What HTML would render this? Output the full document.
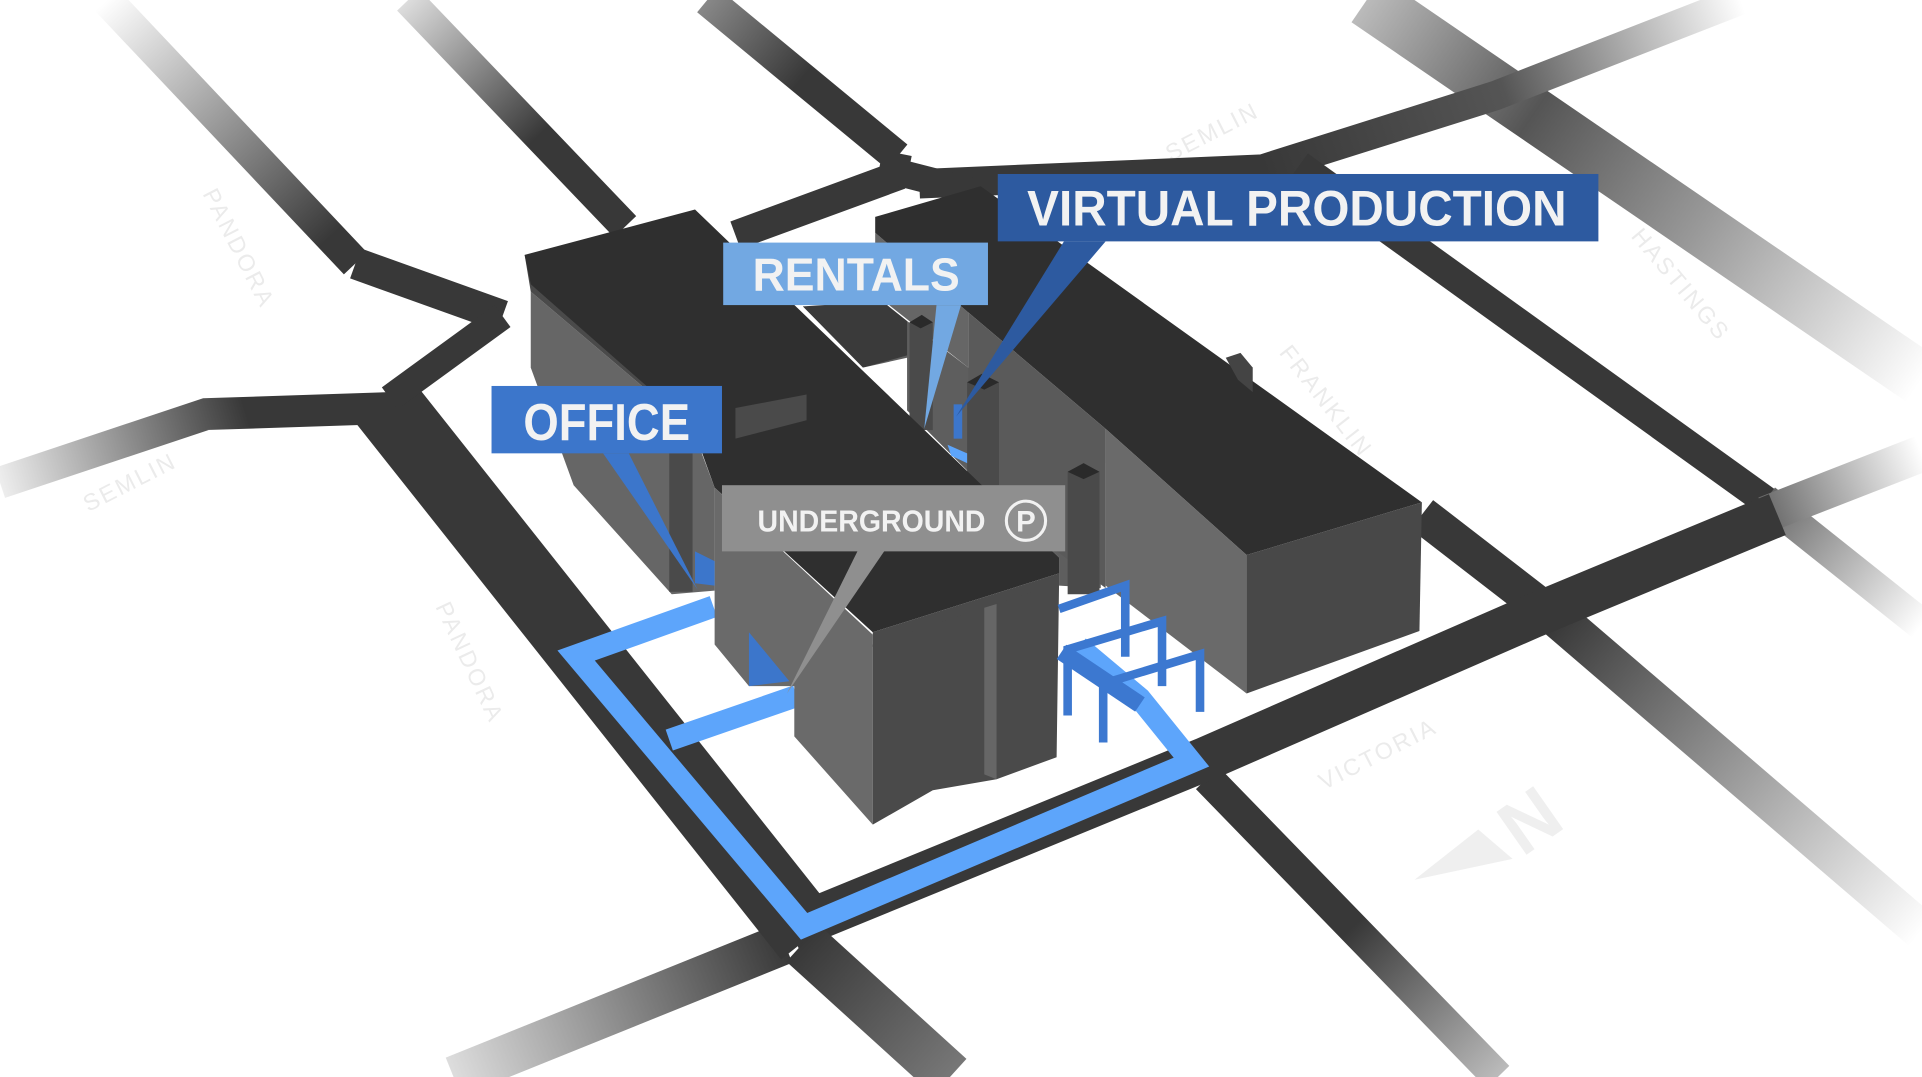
<!DOCTYPE html>
<html><head><meta charset="utf-8"><style>
html,body{margin:0;padding:0;background:#fff;overflow:hidden}
svg{display:block}
.lbl{font-family:"Liberation Sans",sans-serif;font-weight:bold;fill:#f2f2f2}
.st{font-family:"Liberation Sans",sans-serif;font-size:19px;fill:#ebebeb;letter-spacing:2px}
</style></head><body>
<svg width="1922" height="1077" viewBox="0 0 1568 879" preserveAspectRatio="none" xmlns="http://www.w3.org/2000/svg">
<defs>
<linearGradient id="gA" gradientUnits="userSpaceOnUse" x1="87" y1="0" x2="290" y2="215"><stop offset="0" stop-color="#fff"/><stop offset="0.9" stop-color="#383838"/></linearGradient>
<linearGradient id="gC" gradientUnits="userSpaceOnUse" x1="0" y1="394" x2="200" y2="334"><stop offset="0" stop-color="#eee"/><stop offset="1" stop-color="#383838"/></linearGradient>
<linearGradient id="gE" gradientUnits="userSpaceOnUse" x1="333" y1="0" x2="510" y2="185"><stop offset="0" stop-color="#ddd"/><stop offset="0.6" stop-color="#383838"/></linearGradient>
<linearGradient id="gF" gradientUnits="userSpaceOnUse" x1="577" y1="0" x2="732" y2="128"><stop offset="0" stop-color="#888"/><stop offset="0.5" stop-color="#383838"/></linearGradient>
<linearGradient id="gH" gradientUnits="userSpaceOnUse" x1="1115" y1="0" x2="1568" y2="310"><stop offset="0" stop-color="#bbb"/><stop offset="0.3" stop-color="#555"/><stop offset="0.6" stop-color="#999"/><stop offset="1" stop-color="#fff"/></linearGradient>
<linearGradient id="gS" gradientUnits="userSpaceOnUse" x1="1030" y1="138" x2="1420" y2="0"><stop offset="0" stop-color="#383838"/><stop offset="0.5" stop-color="#555"/><stop offset="1" stop-color="#fff"/></linearGradient>
<linearGradient id="gI" gradientUnits="userSpaceOnUse" x1="1400" y1="380" x2="1568" y2="510"><stop offset="0" stop-color="#383838"/><stop offset="1" stop-color="#fff"/></linearGradient>
<linearGradient id="gV" gradientUnits="userSpaceOnUse" x1="1400" y1="440" x2="1568" y2="370"><stop offset="0" stop-color="#383838"/><stop offset="1" stop-color="#fff"/></linearGradient>
<linearGradient id="g8" gradientUnits="userSpaceOnUse" x1="1270" y1="505" x2="1568" y2="760"><stop offset="0" stop-color="#383838"/><stop offset="1" stop-color="#fff"/></linearGradient>
<linearGradient id="g7" gradientUnits="userSpaceOnUse" x1="985" y1="635" x2="1222" y2="879"><stop offset="0.5" stop-color="#383838"/><stop offset="1" stop-color="#bbb"/></linearGradient>
<linearGradient id="g5" gradientUnits="userSpaceOnUse" x1="640" y1="770" x2="370" y2="879"><stop offset="0" stop-color="#383838"/><stop offset="1" stop-color="#ddd"/></linearGradient>
<linearGradient id="gD" gradientUnits="userSpaceOnUse" x1="655" y1="770" x2="775" y2="879"><stop offset="0" stop-color="#383838"/><stop offset="1" stop-color="#777"/></linearGradient>
</defs>
<rect width="1568" height="879" fill="#fff"/>
<text class="st" transform="translate(165,158) rotate(63)">PANDORA</text>
<text class="st" transform="translate(355,495) rotate(65)">PANDORA</text>
<text class="st" transform="translate(72,418) rotate(-27)">SEMLIN</text>
<text class="st" transform="translate(955,132) rotate(-27)">SEMLIN</text>
<text class="st" transform="translate(1330,193) rotate(50)">HASTINGS</text>
<text class="st" transform="translate(1043,288) rotate(52)">FRANKLIN</text>
<text class="st" transform="translate(1080,645) rotate(-27)">VICTORIA</text>
<g fill="none" stroke-linejoin="miter" stroke-linecap="butt">
<polyline points="1115,0 1568,310" stroke="url(#gH)" stroke-width="44"/>
<polyline points="750,150 1030,138 1220,78 1420,0" stroke="url(#gS)" stroke-width="24"/>
<polyline points="1060,135 1445,412" stroke="#383838" stroke-width="24"/>
<polyline points="1440,408 1568,510" stroke="url(#gI)" stroke-width="26"/>
<polyline points="1440,420 1568,370" stroke="url(#gV)" stroke-width="30"/>
<polyline points="1160,420 1270,505" stroke="#383838" stroke-width="30"/>
<polyline points="1265,500 1568,760" stroke="url(#g8)" stroke-width="32"/>
<polyline points="985,635 1222,879" stroke="url(#g7)" stroke-width="26"/>
<polyline points="645,758 982,620 1250,503 1450,420" stroke="#383838" stroke-width="36"/>
<polyline points="640,770 370,879" stroke="url(#g5)" stroke-width="34"/>
<polyline points="655,770 775,879" stroke="url(#gD)" stroke-width="40"/>
<polyline points="312,326 660,765" stroke="#383838" stroke-width="58"/>
<polyline points="87,0 290,215" stroke="url(#gA)" stroke-width="26"/>
<polyline points="290,215 410,258" stroke="#383838" stroke-width="26"/>
<polyline points="410,258 318,325" stroke="#383838" stroke-width="22"/>
<polyline points="318,333 168,338 0,394" stroke="url(#gC)" stroke-width="26"/>
<polyline points="333,0 510,185" stroke="url(#gE)" stroke-width="25"/>
<polyline points="577,0 732,128" stroke="url(#gF)" stroke-width="26"/>
<polyline points="732,125 728,145 600,192" stroke="#383838" stroke-width="24"/>
<polyline points="730,140 800,158" stroke="#383838" stroke-width="22"/>
</g>
<polygon points="1154,718 1206,677 1234,701" fill="#efefef"/>
<text transform="translate(1242,700) rotate(-35)" font-family="Liberation Sans,sans-serif" font-weight="bold" font-size="62" fill="#efefef">N</text>
<g fill="none" stroke="#5da5fb" stroke-width="18" stroke-linejoin="miter">
<polyline points="582,495 470,535 656,756 972,622 930,570 880,528"/>
<polyline points="546,604 650,568"/>
</g>
<polygon points="655,250 740,262 790,300 900,350 898,480 864,478 864,455 800,395" fill="#5e5e5e"/>
<polygon points="655,250 720,246 740,262 740,290 704,300" fill="#3a3a3a"/>
<polygon points="704,300 740,292 740,336 728,338" fill="#fff"/>
<polygon points="714,190 790,255 790,300 714,240" fill="#666"/>
<polygon points="714,177 800,152 1160,410 1017,453 902,350 790,255 714,190" fill="#2f2f2f"/>
<polygon points="790,255 902,350 902,480 790,395" fill="#5a5a5a"/>
<polygon points="902,350 1017,453 1017,566 902,478" fill="#6a6a6a"/>
<polygon points="1017,453 1160,410 1158,515 1017,566" fill="#484848"/>
<polygon points="1000,292 1012,288 1022,300 1022,320 1010,310" fill="#444"/>
<rect x="742" y="263" width="19" height="88" fill="#4a4a4a"/><polygon points="742,263 752,257 761,263 751,268" fill="#2a2a2a"/>
<rect x="789" y="312" width="26" height="84" fill="#4a4a4a"/><polygon points="789,312 801,305 815,312 803,318" fill="#2a2a2a"/>
<rect x="871" y="385" width="26" height="100" fill="#4a4a4a"/><polygon points="871,385 884,378 897,385 884,391" fill="#2a2a2a"/>
<polygon points="433,238 565,350 583,398 583,482 548,485 468,396 433,300" fill="#666"/>
<polygon points="428,208 433,238 565,350 567,338" fill="#4a4a4a"/>
<polygon points="428,208 567,171 800,395 864,455 864,468 712,516 583,398 565,348 433,232" fill="#2f2f2f"/>
<polygon points="600,333 658,322 658,343 600,358" fill="#4a4a4a"/>
<rect x="546" y="370" width="19" height="113" fill="#4a4a4a"/>
<polygon points="583,398 712,518 712,673 648,601 648,560 611,560 583,526" fill="#6a6a6a"/>
<polygon points="712,516 864,468 864,478 712,528" fill="#4a4a4a"/>
<polygon points="712,526 864,476 862,618 813,636 761,645 712,673" fill="#4a4a4a"/>
<polygon points="803,496 813,493 813,636 803,632" fill="#666"/>
<polygon points="567,450 583,458 583,478 567,476" fill="#3c76cb"/>
<polygon points="611,516 611,560 644,556" fill="#3c76cb"/>
<rect x="778" y="330" width="7" height="28" fill="#3c76cb"/>
<polygon points="773,363 789,370 789,378 776,372" fill="#5da5fb"/>
<g fill="none" stroke="#3c78d0" stroke-width="7" stroke-linejoin="miter">
<polyline points="864,497 918,478 918,536"/>
<polyline points="871,584 871,530 948,507 948,560"/>
<polyline points="900,606 900,558 979,534 979,581"/>
<polyline points="866,532 930,575" stroke-width="14"/>
</g>
<polygon points="868,197 902,197 780,340" fill="#2d5aa0"/>
<rect x="814" y="142" width="490" height="55" fill="#2d5aa0"/>
<text class="lbl" x="838" y="184" font-size="41" textLength="440" lengthAdjust="spacingAndGlyphs">VIRTUAL PRODUCTION</text>
<polygon points="764,249 784,249 754,350" fill="#72a8e2"/>
<rect x="590" y="198" width="216" height="51" fill="#72a8e2"/>
<text class="lbl" x="614" y="237" font-size="38" textLength="169" lengthAdjust="spacingAndGlyphs">RENTALS</text>
<polygon points="492,370 513,370 569,481" fill="#3c76cb"/>
<rect x="401" y="315" width="188" height="55" fill="#3c76cb"/>
<text class="lbl" x="427" y="359" font-size="42" textLength="136" lengthAdjust="spacingAndGlyphs">OFFICE</text>
<polygon points="700,449 722,449 642,566" fill="#8f8f8f"/>
<rect x="589" y="396" width="280" height="54" fill="#8f8f8f"/>
<text class="lbl" x="618" y="434" font-size="25" textLength="186" lengthAdjust="spacingAndGlyphs">UNDERGROUND</text>
<circle cx="837" cy="425" r="16" fill="none" stroke="#f2f2f2" stroke-width="2.5"/>
<text class="lbl" x="837" y="434" font-size="24" text-anchor="middle">P</text>
</svg>
</body></html>
